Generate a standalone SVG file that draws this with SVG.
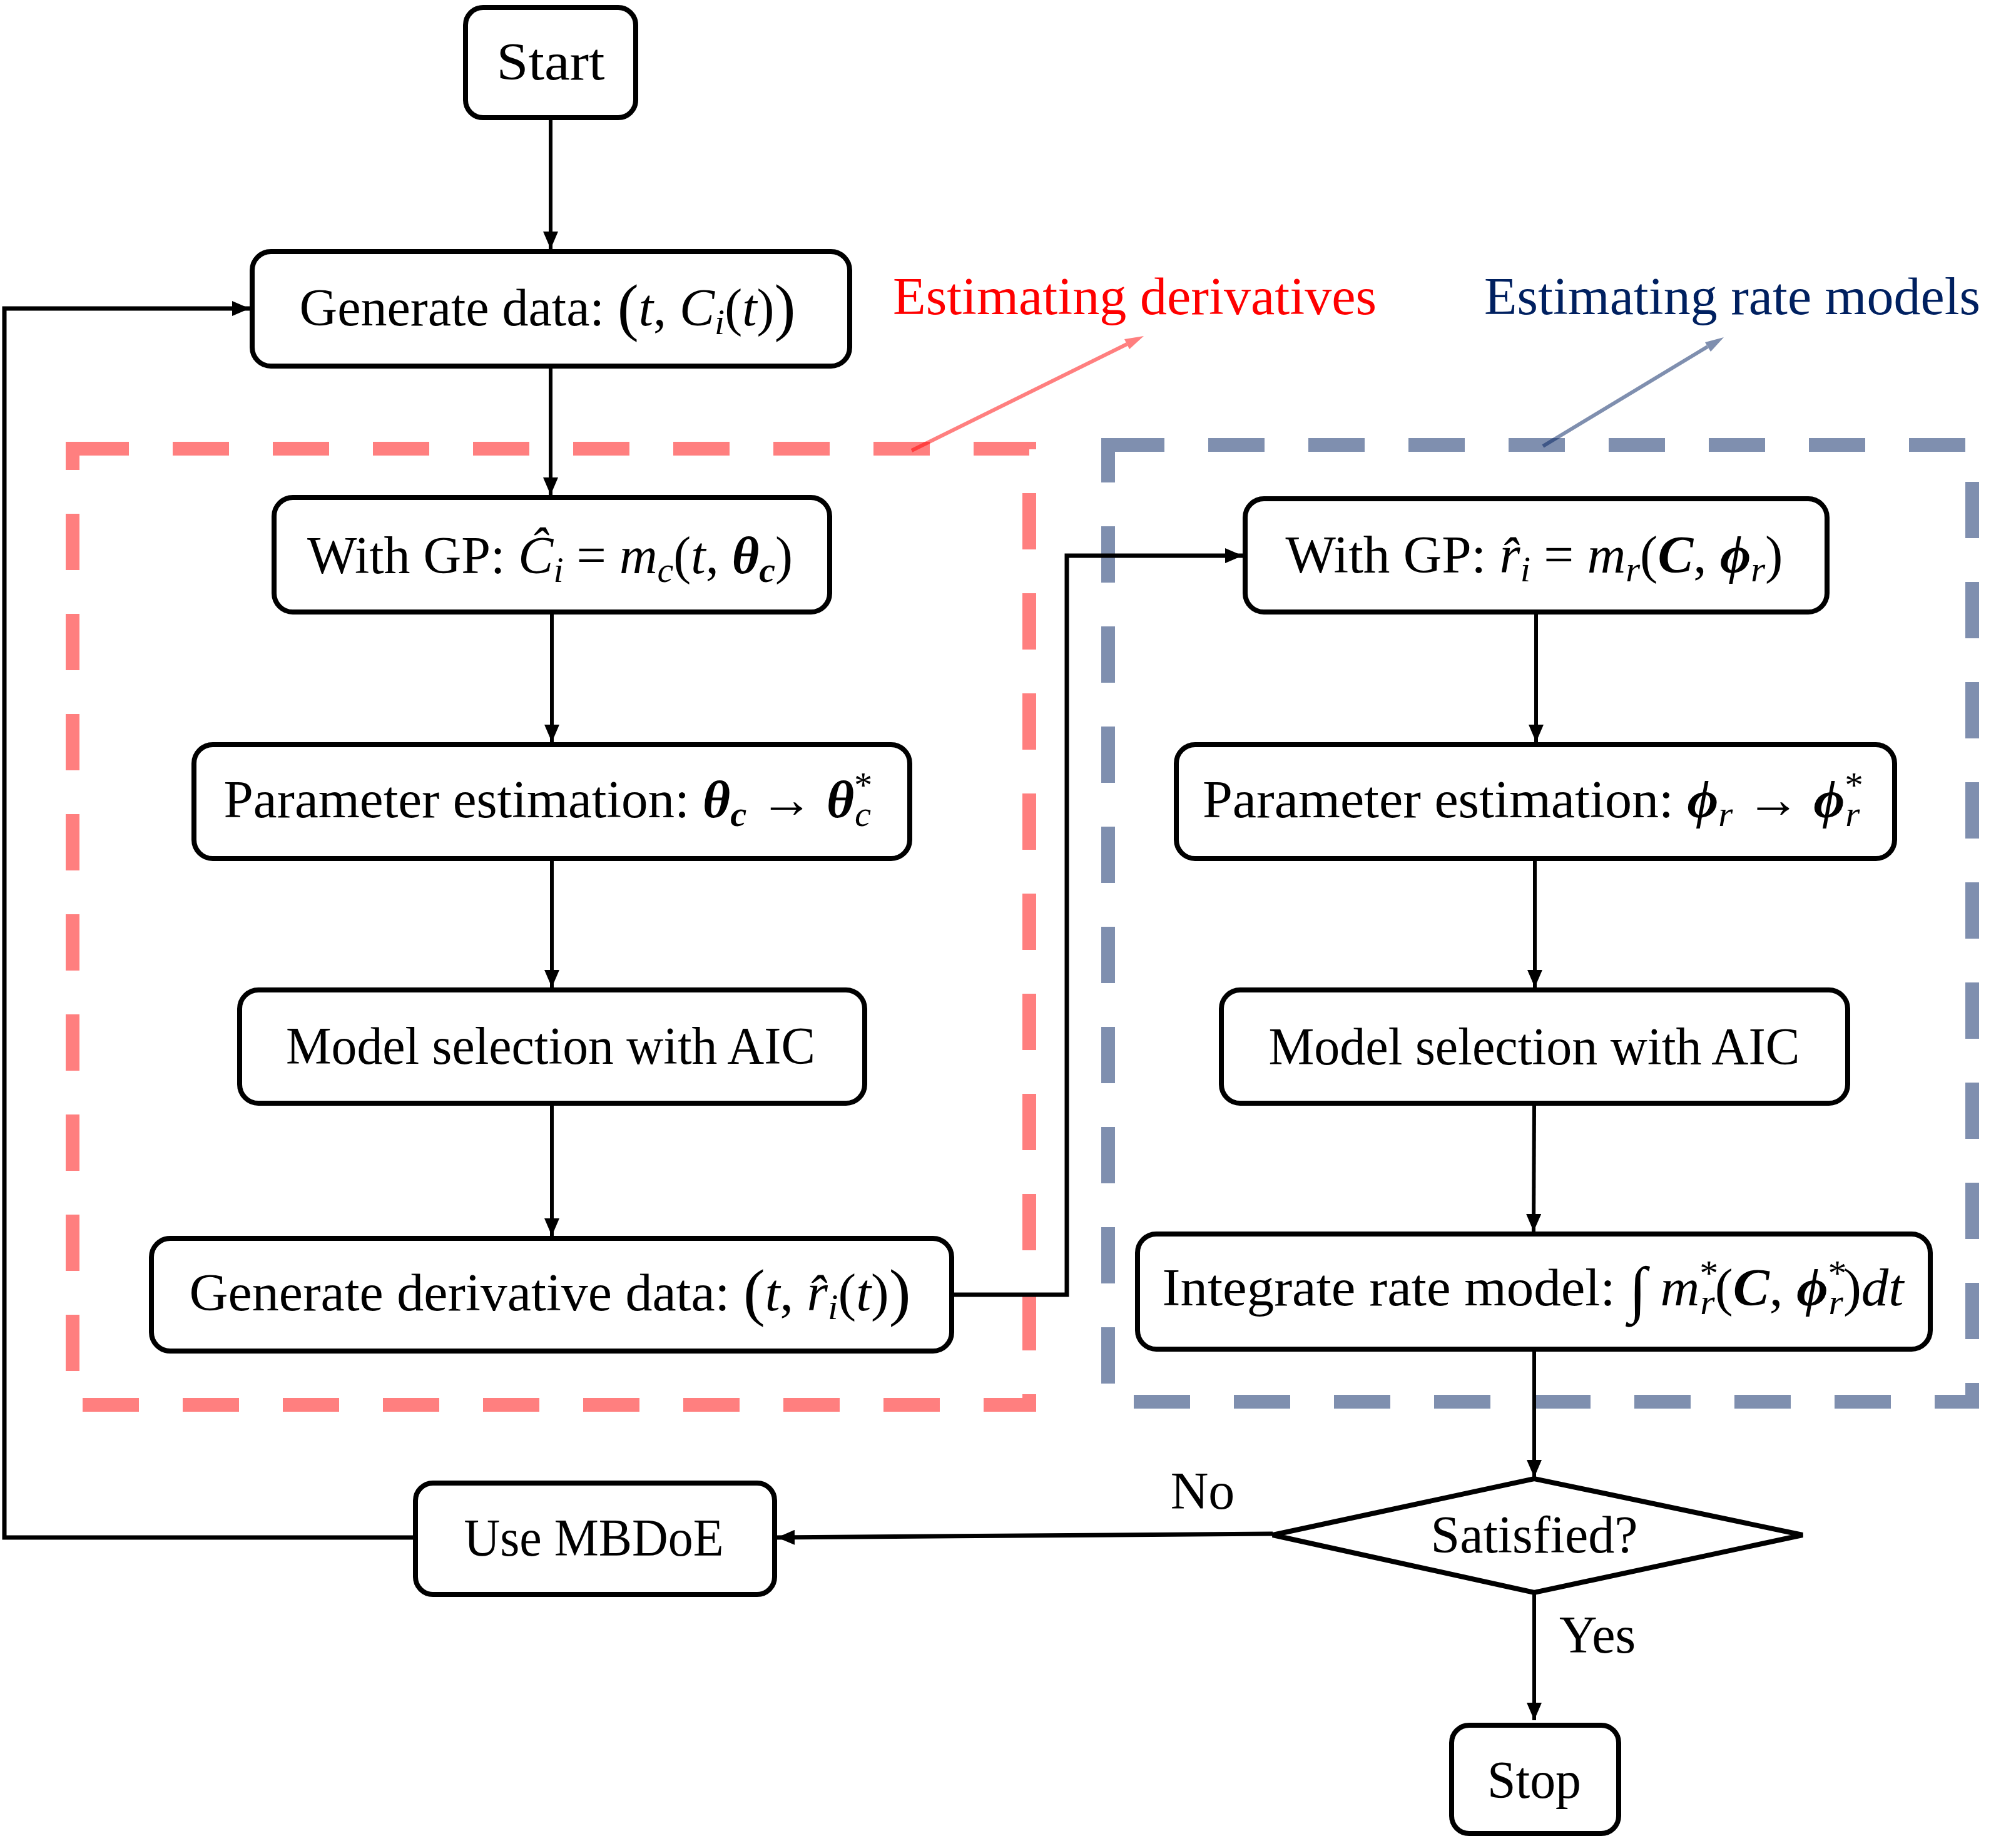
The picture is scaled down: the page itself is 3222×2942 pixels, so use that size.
<svg xmlns="http://www.w3.org/2000/svg" width="3222" height="2942" viewBox="0 0 3222 2942">
<style>
.box{fill:#fff;stroke:#000;stroke-width:8}
.conn{fill:none;stroke:#000;stroke-width:6}
.thick{stroke-width:7}
.lbl{font-family:"Liberation Serif",serif;font-size:84px;fill:#000;text-anchor:middle}
.mi{font-style:italic}
.mb{font-style:italic;font-weight:bold}
.sub{font-size:58px}
</style>
<defs>
<marker id="ah" markerUnits="userSpaceOnUse" viewBox="0 0 28 24" markerWidth="28" markerHeight="24" refX="28" refY="12" orient="auto">
<path d="M0,0 L28,12 L0,24 z" fill="#000"/>
</marker>
</defs>
<rect width="3222" height="2942" fill="#fff"/>

<g id="regions">
<path d="M116,717 H1645 V2245 H116 Z" fill="none" stroke="#FF0000" stroke-opacity="0.5" stroke-width="22" stroke-dasharray="90 70"/>
<path d="M1771,711 H3152 V2240 H1771 Z" fill="none" stroke="#002060" stroke-opacity="0.5" stroke-width="22" stroke-dasharray="90 70"/>
<g id="ann-red">
<line x1="1457" y1="720" x2="1801" y2="550" stroke="#FF0000" stroke-opacity="0.5" stroke-width="6"/>
<polygon points="1828,537 1805,558 1797,542" fill="#FF0000" fill-opacity="0.5"/>
<text x="1427" y="502" font-family="Liberation Serif,serif" font-size="84" fill="#FF0000" textLength="773" lengthAdjust="spacingAndGlyphs">Estimating derivatives</text>
</g>
<g id="ann-blue">
<line x1="2466" y1="713" x2="2729" y2="554" stroke="#002060" stroke-opacity="0.5" stroke-width="6"/>
<polygon points="2755,539 2734,562 2725,547" fill="#002060" fill-opacity="0.5"/>
<text x="2372" y="502" font-family="Liberation Serif,serif" font-size="84" fill="#002060" textLength="793" lengthAdjust="spacingAndGlyphs">Estimating rate models</text>
</g>
</g>

<g id="connectors">
<line class="conn" x1="880" y1="191" x2="880" y2="398" marker-end="url(#ah)"/>
<line class="conn" x1="880" y1="589" x2="880" y2="791" marker-end="url(#ah)"/>
<line class="conn" x1="882" y1="982" x2="882" y2="1186" marker-end="url(#ah)"/>
<line class="conn" x1="882" y1="1376" x2="882" y2="1578" marker-end="url(#ah)"/>
<line class="conn" x1="882" y1="1767" x2="882" y2="1975" marker-end="url(#ah)"/>
<path class="conn thick" d="M1525,2069 H1705 V888 H1986" marker-end="url(#ah)"/>
<line class="conn" x1="2455" y1="982" x2="2455" y2="1186" marker-end="url(#ah)"/>
<line class="conn" x1="2453" y1="1376" x2="2453" y2="1578" marker-end="url(#ah)"/>
<line class="conn" x1="2452" y1="1767" x2="2451" y2="1968" marker-end="url(#ah)"/>
<line class="conn" x1="2452" y1="2160" x2="2452" y2="2361" marker-end="url(#ah)"/>
<line class="conn thick" x1="2034" y1="2451" x2="1242" y2="2457" marker-end="url(#ah)"/>
<line class="conn" x1="2452" y1="2547" x2="2452" y2="2749" marker-end="url(#ah)"/>
<path class="conn thick" d="M664,2457 H7 V493 H399" marker-end="url(#ah)"/>
<text class="lbl" x="1922" y="2411">No</text>
<text class="lbl" x="2553" y="2641">Yes</text>
</g>

<g id="start">
<rect class="box" x="744" y="12" width="272" height="176" rx="28"/>
<text class="lbl" x="880" y="127" textLength="173" lengthAdjust="spacingAndGlyphs">Start</text>
</g>
<g id="generate-data">
<rect class="box" x="403" y="402" width="955" height="183" rx="30"/>
<text class="lbl" x="875" y="520" textLength="793" lengthAdjust="spacingAndGlyphs">Generate data: <tspan font-size="102" dy="5">(</tspan><tspan class="mi" dy="-5">t</tspan>, <tspan class="mi">C</tspan><tspan class="mi sub" dy="14">i</tspan><tspan dy="-14">(</tspan><tspan class="mi">t</tspan>)<tspan font-size="102" dy="5">)</tspan></text>
</g>
<g id="gp-c">
<rect class="box" x="438" y="795" width="888" height="183" rx="30"/>
<text class="lbl" x="879" y="916" textLength="776" lengthAdjust="spacingAndGlyphs">With GP: <tspan class="mi">Ĉ</tspan><tspan class="mi sub" dy="14">i</tspan><tspan dy="-14"> = </tspan><tspan class="mi">m</tspan><tspan class="mi sub" dy="14">c</tspan><tspan dy="-14">(</tspan><tspan class="mi">t</tspan>, <tspan class="mb">θ</tspan><tspan class="mb sub" dy="14">c</tspan><tspan dy="-14">)</tspan></text>
</g>
<g id="param-c">
<rect class="box" x="310" y="1190" width="1144" height="182" rx="30"/>
<text class="lbl" x="876" y="1306" textLength="1037" lengthAdjust="spacingAndGlyphs">Parameter estimation: <tspan class="mb">θ</tspan><tspan class="mb sub" dy="14">c</tspan><tspan dy="-14"> → </tspan><tspan class="mb">θ</tspan><tspan class="sub" dy="-32">*</tspan><tspan class="mi sub" dx="-28" dy="46">c</tspan></text>
</g>
<g id="model-c">
<rect class="box" x="383" y="1582" width="999" height="181" rx="30"/>
<text class="lbl" x="880" y="1700" textLength="846" lengthAdjust="spacingAndGlyphs">Model selection with AIC</text>
</g>
<g id="gen-deriv">
<rect class="box" x="242" y="1979" width="1279" height="180" rx="30"/>
<text class="lbl" x="879" y="2094" textLength="1153" lengthAdjust="spacingAndGlyphs">Generate derivative data: <tspan font-size="102" dy="5">(</tspan><tspan class="mi" dy="-5">t</tspan>, <tspan class="mi">r&#x302;</tspan><tspan class="mi sub" dy="14">i</tspan><tspan dy="-14">(</tspan><tspan class="mi">t</tspan>)<tspan font-size="102" dy="5">)</tspan></text>
</g>
<g id="gp-r">
<rect class="box" x="1990" y="797" width="930" height="181" rx="30"/>
<text class="lbl" x="2452" y="915" textLength="795" lengthAdjust="spacingAndGlyphs">With GP: <tspan class="mi">r&#x302;</tspan><tspan class="mi sub" dy="14">i</tspan><tspan dy="-14"> = </tspan><tspan class="mi">m</tspan><tspan class="mi sub" dy="14">r</tspan><tspan dy="-14">(</tspan><tspan class="mb">C</tspan>, <tspan class="mb">ϕ</tspan><tspan class="mi sub" dy="14">r</tspan><tspan dy="-14">)</tspan></text>
</g>
<g id="param-r">
<rect class="box" x="1880" y="1190" width="1148" height="182" rx="30"/>
<text class="lbl" x="2450" y="1306" textLength="1056" lengthAdjust="spacingAndGlyphs">Parameter estimation: <tspan class="mb">ϕ</tspan><tspan class="mi sub" dy="14">r</tspan><tspan dy="-14"> → </tspan><tspan class="mb">ϕ</tspan><tspan class="sub" dy="-32">*</tspan><tspan class="mi sub" dx="-28" dy="46">r</tspan></text>
</g>
<g id="model-r">
<rect class="box" x="1952" y="1582" width="1001" height="181" rx="30"/>
<text class="lbl" x="2452" y="1701" textLength="849" lengthAdjust="spacingAndGlyphs">Model selection with AIC</text>
</g>
<g id="integrate">
<rect class="box" x="1818" y="1972" width="1267" height="184" rx="30"/>
<text class="lbl" x="2450" y="2086" textLength="1185" lengthAdjust="spacingAndGlyphs">Integrate rate model: <tspan font-size="100" dy="8">∫</tspan><tspan class="mi" dy="-8"> m</tspan><tspan class="sub" dy="-32">*</tspan><tspan class="mi sub" dx="-28" dy="46">r</tspan><tspan dy="-14">(</tspan><tspan class="mb">C</tspan>, <tspan class="mb">ϕ</tspan><tspan class="sub" dy="-32">*</tspan><tspan class="mi sub" dx="-28" dy="46">r</tspan><tspan dy="-14">)</tspan><tspan class="mi">dt</tspan></text>
</g>
<g id="satisfied">
<polygon points="2034,2453 2452,2363 2881,2453 2452,2545" fill="#fff" stroke="#000" stroke-width="8"/>
<text class="lbl" x="2452" y="2481" textLength="331" lengthAdjust="spacingAndGlyphs">Satisfied?</text>
</g>
<g id="mbdoe">
<rect class="box" x="664" y="2370" width="574" height="178" rx="28"/>
<text class="lbl" x="949" y="2486" textLength="415" lengthAdjust="spacingAndGlyphs">Use MBDoE</text>
</g>
<g id="stop">
<rect class="box" x="2320" y="2757" width="267" height="173" rx="28"/>
<text class="lbl" x="2452" y="2873" textLength="150" lengthAdjust="spacingAndGlyphs">Stop</text>
</g>
</svg>
